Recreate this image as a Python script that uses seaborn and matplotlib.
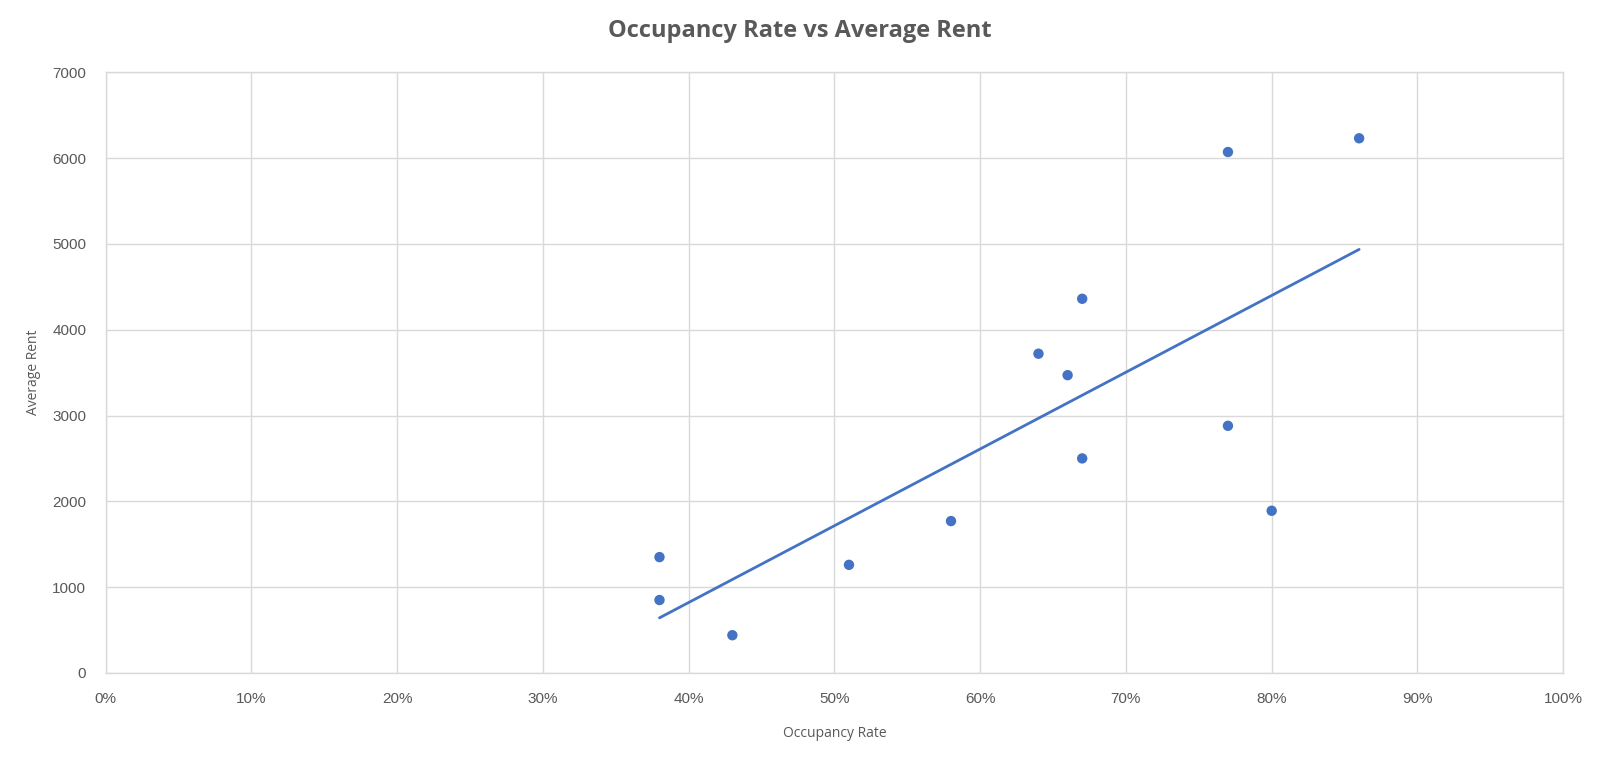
import numpy as np
import pandas as pd
import matplotlib
matplotlib.use("Agg")
import matplotlib.pyplot as plt
import seaborn as sns
from matplotlib.ticker import PercentFormatter, MultipleLocator

# data
occupancy = [0.38, 0.38, 0.43, 0.51, 0.58, 0.64, 0.66, 0.67, 0.67, 0.77, 0.77, 0.80, 0.86]
avg_rent = [1350, 850, 440, 1260, 1770, 3720, 3470, 4360, 2500, 6070, 2880, 1890, 6230]

df = pd.DataFrame({"Occupancy Rate": occupancy, "Average Rent": avg_rent})

sns.set_style("whitegrid")
plt.rcParams['font.family'] = ['Open Sans', 'DejaVu Sans']

blue = "#4472C4"
grid = "#d9d9d9"
text = "#595959"

fig = plt.figure(figsize=(16, 7.6), dpi=100)
ax = fig.add_axes([0.066, 0.1145, 0.911, 0.7905])

sns.regplot(data=df, x="Occupancy Rate", y="Average Rent", ax=ax, ci=None,
            scatter_kws=dict(s=56, color=blue, edgecolor="none", alpha=1, zorder=3),
            line_kws=dict(color=blue, lw=2, zorder=2))

ax.set_xlim(0, 1)
ax.set_ylim(0, 7000)
ax.xaxis.set_major_locator(MultipleLocator(0.1))
ax.xaxis.set_major_formatter(PercentFormatter(1.0, decimals=0))
ax.yaxis.set_major_locator(MultipleLocator(1000))

ax.grid(True, color=grid, lw=1)
for s in ax.spines.values():
    s.set_color(grid)
    s.set_linewidth(1)
ax.tick_params(length=0, labelsize=11, labelcolor=text, pad=14)
for lab in ax.get_xticklabels() + ax.get_yticklabels():
    lab.set_family(['Liberation Sans', 'DejaVu Sans'])

ax.set_xlabel("Occupancy Rate", fontsize=10, color=text, labelpad=14)
ax.set_ylabel("Average Rent", fontsize=10, color=text, labelpad=8)
fig.suptitle("Occupancy Rate vs Average Rent", fontsize=17, fontweight="bold",
             color=text, y=0.975)

fig.savefig("out.png", dpi=100)
